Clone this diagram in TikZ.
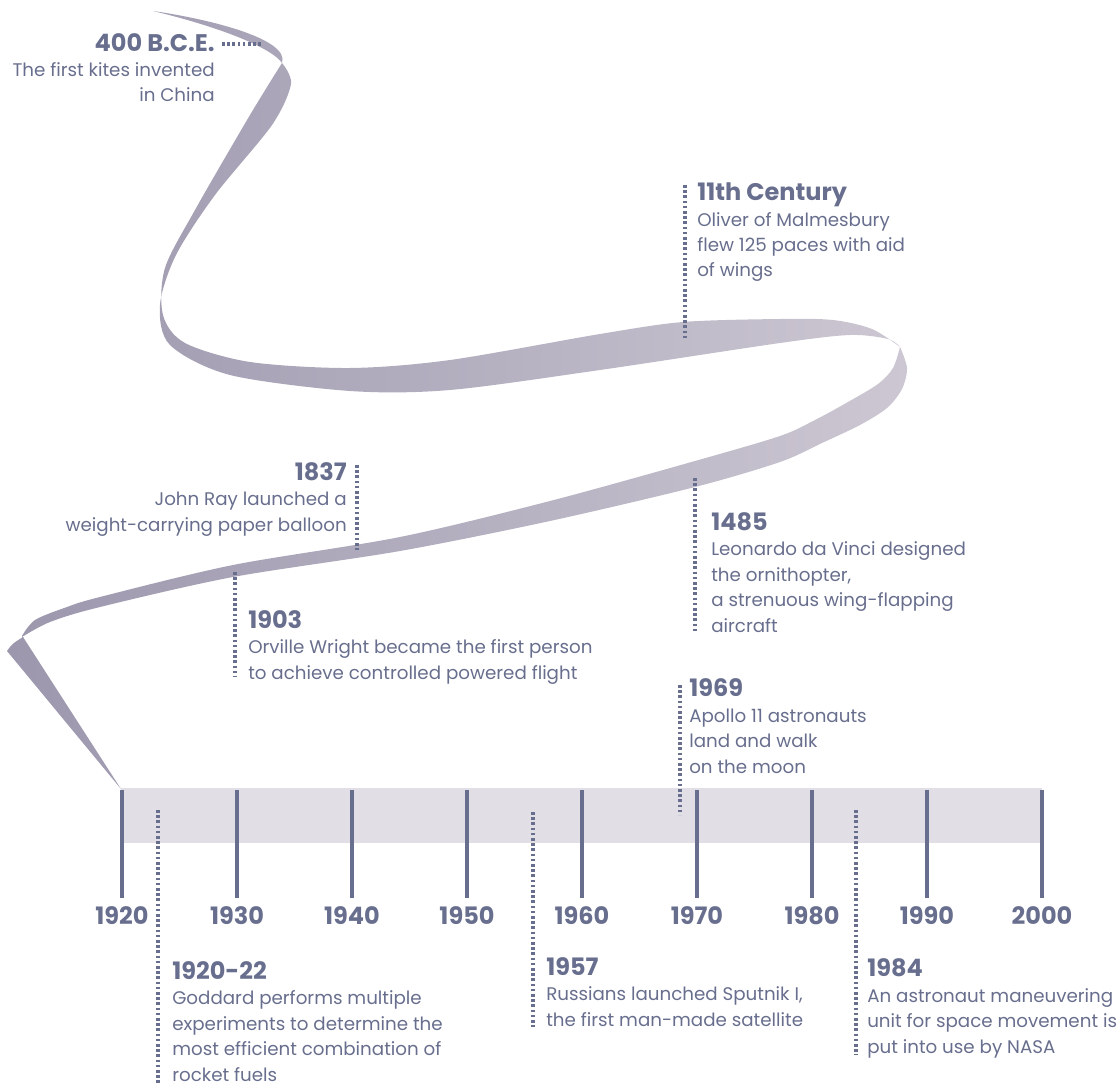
\documentclass[tikz,border=0pt]{standalone}
\usepackage{fontspec}
\setmainfont{Poppins}
\usepackage{tikz}
\definecolor{ink}{RGB}{104,110,141}
\definecolor{bandgray}{RGB}{225,223,229}
\definecolor{ribbonL}{RGB}{156,151,173}
\definecolor{ribbonR}{RGB}{204,199,210}
\newcommand{\evhead}[1]{{\bfseries\fontsize{18}{19}\selectfont #1}}
\tikzset{
  leader/.style={ink, line width=2.4pt, dash pattern=on 2pt off 1.9pt},
  tick/.style={ink, line width=2.3pt},
  event/.style={text=ink, inner sep=0pt, font=\fontsize{13.7}{19.1}\selectfont},
  yearlbl/.style={text=ink, inner sep=0pt, anchor=base, font=\bfseries\fontsize{18}{19}\selectfont}}

\begin{document}
\begin{tikzpicture}[x=0.75pt, y=-0.75pt]
  \useasboundingbox (0,0) rectangle (1120,1087);

  % the ribbon, one shading over all its pieces
  \shade[left color=ribbonL, right color=ribbonR]
    (153,11) .. controls (215,20) and (290,40) .. (282,63)
      .. controls (272,48) and (220,27) .. (153,11) -- cycle
    plot [smooth] coordinates {(282,63) (291,84) (272,125) (215,195) (176,255) (160,305) (170,345) (230,375) (350,391) (450,390) (600,370) (780,343) (850,335) (888,339) (900,347)}
      -- plot [smooth] coordinates {(900,347) (872,329) (833,320) (780,319) (683,322) (600,334) (450,360) (350,368) (250,362) (185,343) (163,315) (165,268) (195,210) (250,115) (282,63)} -- cycle
    plot [smooth] coordinates {(900,347) (907,368) (902,389) (887,408) (860,425) (822,443) (780,462) (695,487) (550,521) (400,551) (233,577) (100,607) (50,622) (22,637)}
      -- plot [smooth] coordinates {(22,636) (35,620) (67,607) (100,597) (233,565) (400,537) (550,501) (695,461) (780,436) (815,420) (848,402) (878,384) (893,368) (900,347)} -- cycle
    (23,637) -- (121,789) -- (7,651) .. controls (12,644) .. (23,637) -- cycle;

  % time axis
  \fill[bandgray] (121,788) rectangle (1042,843);
  \foreach \yr [count=\i from 0] in {1920,1930,...,2000} {
    \coordinate (top\yr) at (122+115*\i,790);
    \coordinate (bot\yr) at (122+115*\i,898);
    \draw[tick] (top\yr) -- (bot\yr);
    \node[yearlbl] (lbl\yr) at (122+115*\i,924) {\yr};
  }

  % leaders
  \coordinate (bceA) at (222,44);   \coordinate (bceB) at (262,44);
  \coordinate (malA) at (685,185);  \coordinate (malB) at (685,340);
  \coordinate (rayA) at (357,465);  \coordinate (rayB) at (357,550);
  \coordinate (davA) at (695,478);  \coordinate (davB) at (695,632);
  \coordinate (wriA) at (235,572);  \coordinate (wriB) at (235,677);
  \coordinate (apoA) at (680,685);  \coordinate (apoB) at (680,815);
  \coordinate (godA) at (158,810);  \coordinate (godB) at (158,1083);
  \coordinate (sptA) at (533,812);  \coordinate (sptB) at (533,1027);
  \coordinate (nasA) at (856,810);  \coordinate (nasB) at (856,1055);
  \foreach \ev in {bce,mal,ray,dav,wri,apo,god,spt,nas}
    \draw[leader] (\ev A) -- (\ev B);

  % events (placed by the baseline of their last line)
  \node[event, anchor=base east, align=right] (bce) at (215,102)
    {\evhead{400 B.C.E.}\\ The first kites invented\\ in China};
  \node[event, anchor=base west, align=left] (mal) at (697,277)
    {\evhead{11th Century}\\ Oliver of Malmesbury\\ flew 125 paces with aid\\ of wings};
  \node[event, anchor=base east, align=right] (ray) at (347,531)
    {\evhead{1837}\\ John Ray launched a\\ weight-carrying paper balloon};
  \node[event, anchor=base west, align=left] (dav) at (711,632)
    {\evhead{1485}\\ Leonardo da Vinci designed\\ the ornithopter,\\ a strenuous wing-flapping\\ aircraft};
  \node[event, anchor=base west, align=left] (wri) at (248,679)
    {\evhead{1903}\\ Orville Wright became the first person\\ to achieve controlled powered flight};
  \node[event, anchor=base west, align=left] (apo) at (689,773)
    {\evhead{1969}\\ Apollo 11 astronauts\\ land and walk\\ on the moon};
  \node[event, anchor=base west, align=left] (god) at (172,1081)
    {\evhead{1920-22}\\ Goddard performs multiple\\ experiments to determine the\\ most efficient combination of\\ rocket fuels};
  \node[event, anchor=base west, align=left] (spt) at (546,1026)
    {\evhead{1957}\\ Russians launched Sputnik I,\\ the first man-made satellite};
  \node[event, anchor=base west, align=left] (nas) at (867,1053)
    {\evhead{1984}\\ An astronaut maneuvering\\ unit for space movement is\\ put into use by NASA};
\end{tikzpicture}
\end{document}
